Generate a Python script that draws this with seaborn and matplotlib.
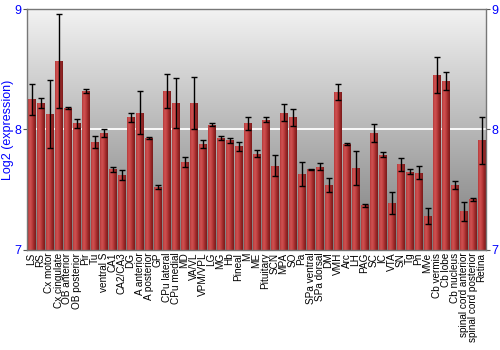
import numpy as np
import pandas as pd
import matplotlib
matplotlib.use("Agg")
import matplotlib.pyplot as plt
import seaborn as sns
from matplotlib.colors import LinearSegmentedColormap

regions = ["LS", "RS", "Cx motor", "Cx cingulate", "OB anterior", "OB posterior", "Pir", "Tu",
           "ventral S", "CA1", "CA2/CA3", "DG", "A anterior", "A posterior", "GP", "CPu lateral",
           "CPu medial", "MD", "VA/VL", "VPM/VPL", "LG", "MG", "Hb", "Pineal", "M", "ME",
           "Pituitary", "SCN", "MPA", "SO", "Pa", "SPa ventral", "SPa dorsal", "DM", "VMH", "Arc",
           "LH", "PAG", "SC", "IC", "VTA", "SN", "Tg", "Pn", "MVe", "Cb vermis", "Cb lobe",
           "Cb nucleus", "spinal cord anterior", "spinal cord posterior", "Retina"]
expression = [8.25, 8.22, 8.13, 8.57, 8.18, 8.05, 8.32, 7.90, 7.97, 7.67, 7.62, 8.10, 8.14, 7.93,
              7.52, 8.32, 8.22, 7.73, 8.22, 7.88, 8.04, 7.93, 7.91, 7.86, 8.05, 7.80, 8.08, 7.70,
              8.14, 8.10, 7.63, 7.67, 7.69, 7.54, 8.31, 7.88, 7.68, 7.37, 7.97, 7.79, 7.39, 7.71,
              7.65, 7.64, 7.28, 8.45, 8.40, 7.54, 7.32, 7.42, 7.91]
error = [0.13, 0.045, 0.28, 0.39, 0.01, 0.04, 0.02, 0.05, 0.03, 0.02, 0.04, 0.04, 0.18, 0.005,
         0.015, 0.145, 0.205, 0.045, 0.22, 0.035, 0.015, 0.02, 0.02, 0.04, 0.055, 0.03, 0.02,
         0.09, 0.07, 0.07, 0.10, 0.005, 0.03, 0.055, 0.065, 0.005, 0.145, 0.015, 0.075, 0.02,
         0.09, 0.055, 0.02, 0.055, 0.065, 0.15, 0.075, 0.035, 0.08, 0.01, 0.195]
yticks = [7, 8, 9]

df = pd.DataFrame({"region": regions, "expression": expression, "error": error})

fig = plt.figure(figsize=(5, 3.5), dpi=100)
ax = fig.add_axes([0.054, 0.286, 0.918, 0.688])

# background gradient
bg = LinearSegmentedColormap.from_list("bg", ["#7c7c7c", "#f2f2f2"])
grad = np.linspace(0, 1, 256).reshape(-1, 1)
ax.imshow(grad, cmap=bg, origin="lower", aspect="auto",
          extent=[-0.5, len(regions) - 0.5, 7, 9], zorder=0)

sns.barplot(data=df, x="region", y="expression", color="#c03535", width=0.85,
            errorbar=None, ax=ax, zorder=2, linewidth=0, saturation=1)

# horizontal shading on each bar
barmap = LinearSegmentedColormap.from_list("bar", ["#b53a3a", "#d05252", "#c04040", "#9a2828", "#7a1a1a"])
hgrad = np.linspace(0, 1, 64).reshape(1, -1)
for p in ax.patches:
    x0, y0 = p.get_x(), 7
    im = ax.imshow(hgrad, cmap=barmap, aspect="auto",
                   extent=[x0, x0 + p.get_width(), y0, p.get_height()], zorder=3)
    im.set_clip_path(p)

ax.errorbar(np.arange(len(regions)), df["expression"], yerr=df["error"], fmt="none",
            ecolor="black", elinewidth=1, capsize=2, capthick=1, zorder=4)

ax.axhline(8, color="white", lw=1.3, zorder=1)

ax.set_xlim(-0.5, len(regions) - 0.5)
ax.set_ylim(7, 9)
ax.set_yticks(yticks)
ax.set_yticklabels([str(t) for t in yticks])
ax.set_xlabel("")
ax.set_ylabel("Log2 (expression)", color="blue", fontsize=9, family="Liberation Sans")
ax.yaxis.set_label_coords(-0.028, 0.5)
ax.tick_params(axis="y", colors="#555555", labelcolor="blue", labelsize=9, length=3,
               right=True, labelright=True, pad=1)
for lab in ax.get_yticklabels():
    lab.set_family("Liberation Sans")
ax.tick_params(axis="x", length=0, pad=2)
ax.set_xticks(range(len(regions)))
ax.set_xticklabels(regions, rotation=90, fontsize=7.2, family="Liberation Sans")
for s in ax.spines.values():
    s.set_color("#777777")
    s.set_linewidth(1)
    s.set_zorder(5)

fig.savefig("out.png", dpi=100)
